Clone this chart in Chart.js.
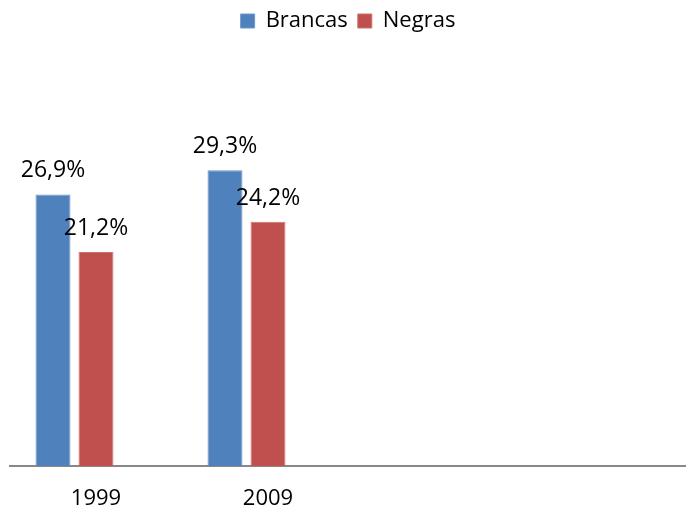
<!DOCTYPE html>
<html lang="pt">
<head>
<meta charset="UTF-8">
<title>Brancas e Negras</title>
<script src="https://cdn.jsdelivr.net/npm/chart.js"></script>
<style>
  html, body { margin: 0; padding: 0; background: #fff; }
  #wrap { width: 686px; height: 508px; }
</style>
</head>
<body>
<div id="wrap"><canvas id="chart" width="686" height="508"></canvas></div>
<script>
// data
var years = ['1999', '2009'];
var brancas = [26.9, 29.3];
var negras = [21.2, 24.2];

var FONT = '"Open Sans", "Noto Sans", sans-serif';

function toPoints(values) {
  return values.map(function(v, i) { return { x: i, y: v }; });
}

function pct(v) {
  return v.toFixed(1).replace('.', ',') + '%';
}

// labels above each bar
var barLabels = {
  id: 'barLabels',
  afterDatasetsDraw: function(chart) {
    var ctx = chart.ctx;
    ctx.save();
    ctx.font = '23px ' + FONT;
    ctx.fillStyle = '#000';
    ctx.textAlign = 'center';
    ctx.textBaseline = 'alphabetic';
    chart.data.datasets.forEach(function(ds, di) {
      var meta = chart.getDatasetMeta(di);
      if (meta.hidden) return;
      meta.data.forEach(function(bar, i) {
        var v = ds.data[i] && ds.data[i].y;
        if (v == null) return;
        ctx.fillText(pct(v), bar.x, bar.y - 17);
      });
    });
    ctx.restore();
  }
};

var ctx = document.getElementById('chart').getContext('2d');
new Chart(ctx, {
  type: 'bar',
  data: {
    datasets: [
      {
        label: 'Brancas',
        data: toPoints(brancas),
        backgroundColor: '#4F81BD',
        borderColor: '#6F97CA',
        borderWidth: 1
      },
      {
        label: 'Negras',
        data: toPoints(negras),
        backgroundColor: '#C0504D',
        borderColor: '#CD716E',
        borderWidth: 1
      },
      {
        // empty third slot, the original leaves room for it
        label: '',
        data: []
      }
    ]
  },
  options: {
    responsive: false,
    animation: false,
    categoryPercentage: 0.75,
    barPercentage: 0.814,
    layout: { padding: { left: 10, right: 0, top: 0, bottom: -24 } },
    plugins: {
      tooltip: { enabled: false },
      legend: {
        position: 'top',
        labels: {
          font: { family: FONT, size: 22 },
          color: '#000',
          boxWidth: 14,
          boxHeight: 14,
          padding: 10,
          filter: function(item) { return item.datasetIndex < 2; }
        }
      }
    },
    scales: {
      x: {
        type: 'linear',
        min: -0.5,
        max: 3.43,
        offset: false,
        z: 1,
        grid: { display: false, drawTicks: false, offset: false },
        border: { display: true, color: '#888888', width: 2 },
        afterBuildTicks: function(scale) {
          scale.ticks = years.map(function(y, i) { return { value: i }; });
        },
        ticks: {
          autoSkip: false,
          maxRotation: 0,
          padding: 22,
          color: '#000',
          font: { family: FONT, size: 22, lineHeight: 1 },
          callback: function(value) { return years[value]; }
        }
      },
      y: {
        display: false,
        min: 0,
        max: 42
      }
    }
  },
  plugins: [barLabels]
});
</script>
</body>
</html>
